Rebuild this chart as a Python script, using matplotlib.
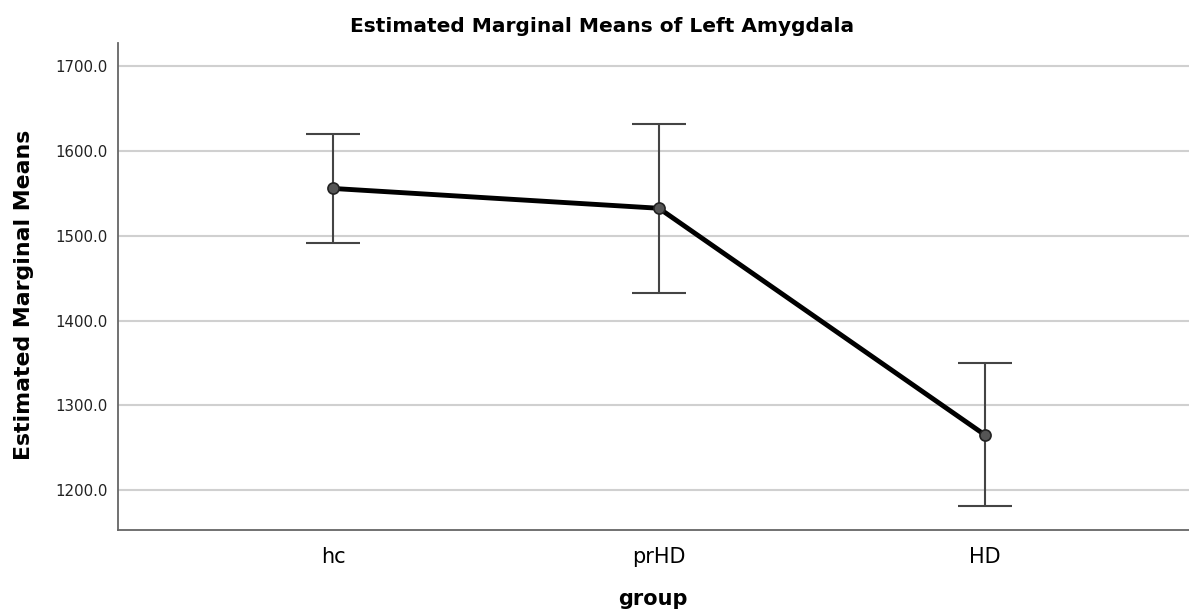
import numpy as np
import matplotlib
matplotlib.use("Agg")
import matplotlib.pyplot as plt

# estimated marginal means with 95% CI
groups = ["hc", "prHD", "HD"]
means = [1556.0, 1532.6, 1265.0]
upper = [1620.7, 1632.2, 1349.6]
lower = [1491.3, 1432.6, 1181.5]

plt.rcParams['font.family'] = ['DejaVu Sans']

fig = plt.figure(figsize=(11.89, 6.12), dpi=100)
ax = fig.add_axes([117.5 / 1189, 1 - 530 / 612, 1 - 117.5 / 1189, (530 - 43) / 612])

x = np.arange(len(groups))
m = np.array(means)
yerr = [m - np.array(lower), np.array(upper) - m]

ax.errorbar(x, m, yerr=yerr, fmt='none', ecolor='#444444', elinewidth=1.5,
            capsize=19.5, capthick=1.5, zorder=3)
ax.plot(x, m, color='black', lw=3.5, zorder=4)
ax.plot(x, m, 'o', ms=8, mfc='#555555', mec='#222222', mew=1.2, zorder=5)

ax.set_xlim(-0.661, 2.626)
ax.set_ylim(1152.8, 1727.7)
ax.set_yticks([1200, 1300, 1400, 1500, 1600, 1700])
ax.set_yticklabels(["%.1f" % v for v in [1200, 1300, 1400, 1500, 1600, 1700]])
ax.set_xticks(x)
ax.set_xticklabels(groups, fontsize=15)
ax.tick_params(axis='y', length=0, pad=7, labelsize=10.8, labelcolor='#222222')
ax.tick_params(axis='x', length=0, pad=12)

ax.yaxis.grid(True, color='#d0d0d0', lw=1.5)
ax.set_axisbelow(True)
for s in ['top', 'right']:
    ax.spines[s].set_visible(False)
for s in ['left', 'bottom']:
    ax.spines[s].set_color('#666666')
    ax.spines[s].set_linewidth(1.3)

ax.set_xlabel("group", fontsize=15, fontweight='bold', labelpad=16)
fig.text(24 / 1189, 1 - 295 / 612, "Estimated Marginal Means", rotation=90,
         ha='center', va='center', fontsize=15.8, fontweight='bold')
fig.text(602 / 1189, 1 - 27 / 612, "Estimated Marginal Means of Left Amygdala",
         ha='center', va='center', fontsize=14.5, fontweight='bold')

fig.savefig("out.png", dpi=100)
